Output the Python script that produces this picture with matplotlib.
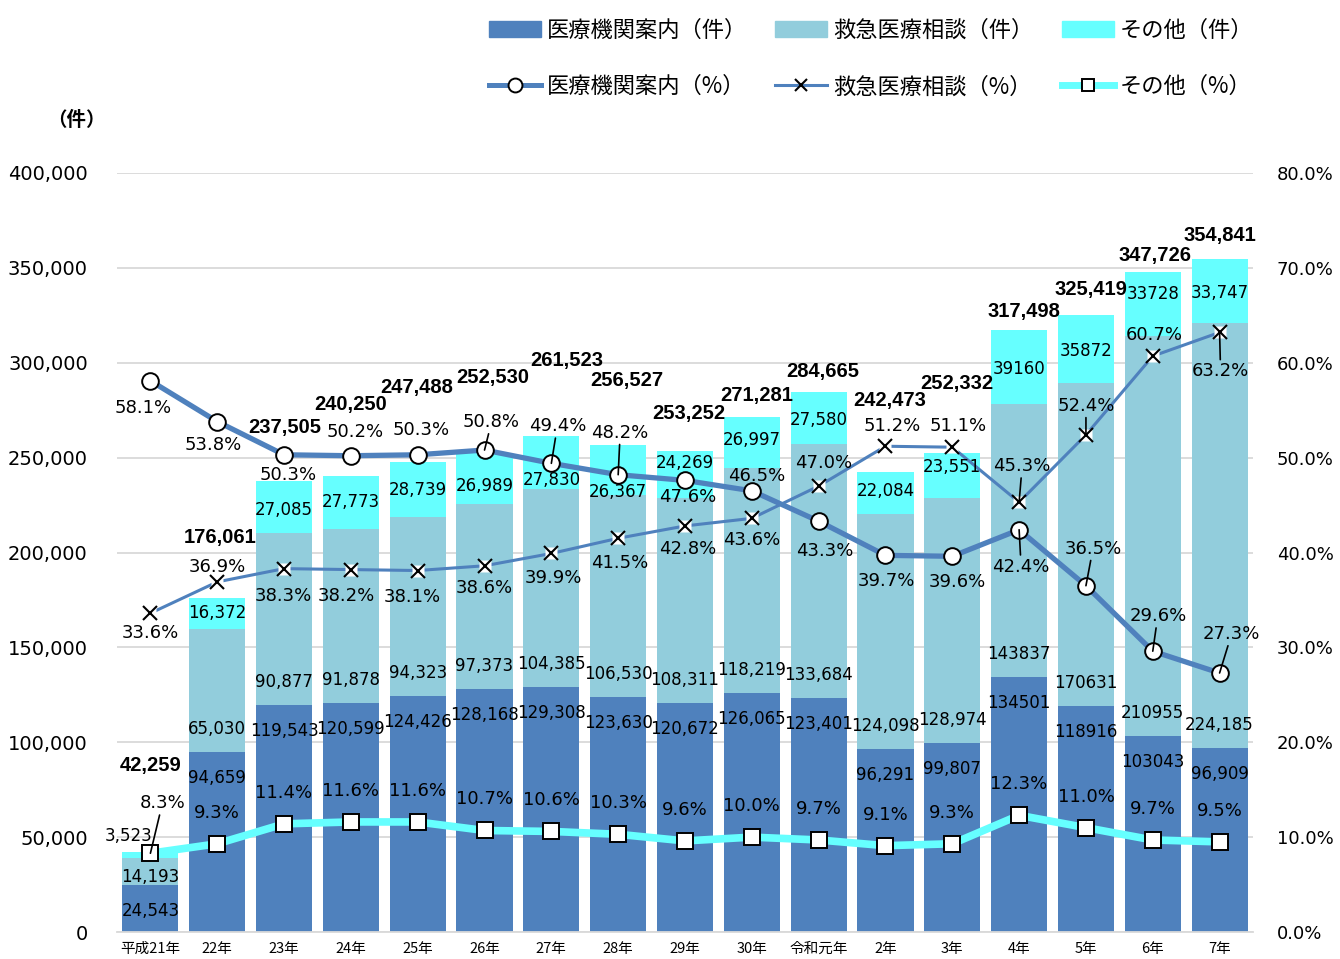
import numpy as np
import matplotlib
matplotlib.use("Agg")
import matplotlib.pyplot as plt
from matplotlib.lines import Line2D
from matplotlib.patches import Patch

plt.rcParams['font.family'] = ['Noto Sans CJK JP', 'DejaVu Sans']
NUM = ['DejaVu Sans', 'Noto Sans CJK JP']  # wide digits, close to the original

# Data
years = ['平成21年', '22年', '23年', '24年', '25年', '26年', '27年', '28年', '29年',
         '30年', '令和元年', '2年', '3年', '4年', '5年', '6年', '7年']
guide = [24543, 94659, 119543, 120599, 124426, 128168, 129308, 123630, 120672,
         126065, 123401, 96291, 99807, 134501, 118916, 103043, 96909]
consult = [14193, 65030, 90877, 91878, 94323, 97373, 104385, 106530, 108311,
           118219, 133684, 124098, 128974, 143837, 170631, 210955, 224185]
other = [3523, 16372, 27085, 27773, 28739, 26989, 27830, 26367, 24269,
         26997, 27580, 22084, 23551, 39160, 35872, 33728, 33747]
total = [42259, 176061, 237505, 240250, 247488, 252530, 261523, 256527, 253252,
         271281, 284665, 242473, 252332, 317498, 325419, 347726, 354841]
guide_pct = [58.1, 53.8, 50.3, 50.2, 50.3, 50.8, 49.4, 48.2, 47.6,
             46.5, 43.3, 39.7, 39.6, 42.4, 36.5, 29.6, 27.3]
consult_pct = [33.6, 36.9, 38.3, 38.2, 38.1, 38.6, 39.9, 41.5, 42.8,
               43.6, 47.0, 51.2, 51.1, 45.3, 52.4, 60.7, 63.2]
other_pct = [8.3, 9.3, 11.4, 11.6, 11.6, 10.7, 10.6, 10.3, 9.6,
             10.0, 9.7, 9.1, 9.3, 12.3, 11.0, 9.7, 9.5]
no_comma = (13, 14, 15)  # these years were labelled without thousands separator

DARK = '#4F81BD'
LIGHT = '#92CDDC'
CYAN = '#66FFFF'

# label offsets in pixels (dx, dy), dy up
total_off = [(0, 86), (3, 60), (1, 54), (0, 72), (-1, 75), (8, 75), (15, 75), (9, 65), (4, 38),
             (5, 22), (4, 20), (4, 71), (5, 70), (5, 18), (5, 25), (2, 17), (0, 23)]
other_off = [(-22, 19), (0, 0), (0, -3), (0, 0), (0, 0), (0, -8), (0, -18), (0, -22), (0, 11),
             (0, 3), (0, -2), (0, 2), (0, 9), (0, -2), (0, -2), (0, 10), (0, -2)]
gpct_off = [(-7, -27), (-4, -23), (4, -20), (4, 24), (3, 25), (7, 28), (6, 37), (2, 42), (3, -17),
            (5, 15), (6, -30), (1, -26), (5, -26), (2, -37), (7, 37), (5, 35), (12, 39)]
gpct_lead = [5, 6, 7, 13, 14, 15, 16]
cpct_off = [(0, -20), (0, 15), (-1, -27), (-5, -26), (-5, -26), (0, -22), (2, -25), (2, -25), (3, -23),
            (0, -22), (5, 23), (7, 20), (6, 21), (3, 36), (0, 29), (1, 21), (1, -39)]
cpct_lead = [13, 14, 16]
opct_off = [(12, 50)] + [(0, 31)] * 16
opct_lead = [0]

x = np.arange(len(years))
bottom2 = np.array(guide) + np.array(consult)

fig = plt.figure(figsize=(13.4, 9.59), dpi=100)
ax = fig.add_axes([117 / 1340, 27 / 959, 1136 / 1340, 759 / 959])
ax.bar(x, guide, width=0.84, color=DARK, zorder=2)
ax.bar(x, consult, width=0.84, bottom=guide, color=LIGHT, zorder=2)
ax.bar(x, other, width=0.84, bottom=bottom2, color=CYAN, zorder=2)

ax.set_xlim(-0.5, len(years) - 0.5)
ax.set_ylim(0, 400000)
ax.set_yticks(np.arange(0, 400001, 50000))
ax.set_yticklabels([f'{v:,}' for v in range(0, 400001, 50000)], fontsize=14, family=NUM)
ax.set_xticks(x)
ax.set_xticklabels(years, fontsize=10.5)
ax.tick_params(length=0)
ax.tick_params(axis='y', pad=21)
ax.tick_params(axis='x', pad=7)
ax.yaxis.grid(True, color='#D9D9D9', lw=1.3, zorder=0)
ax.set_axisbelow(True)
for s in ['top', 'left', 'right']:
    ax.spines[s].set_visible(False)
ax.spines['bottom'].set_color('#D9D9D9')
ax.spines['bottom'].set_linewidth(1.3)

ax2 = ax.twinx()
ax2.set_ylim(0, 80)
ax2.set_yticks(np.arange(0, 81, 10))
ax2.set_yticklabels([f'{v:.1f}%' for v in range(0, 81, 10)], fontsize=13, family=NUM)
ax2.tick_params(length=0, pad=17)
for s in ax2.spines.values():
    s.set_visible(False)

ax2.plot(x, guide_pct, color=DARK, lw=3.8, marker='o', ms=12, mfc='white', mec='black', mew=1.4, zorder=4)
ax2.plot(x, consult_pct, color=DARK, lw=2.2, zorder=4)
ax2.plot(x, consult_pct, ls='none', marker='s', ms=9, mfc='white', mec='none', zorder=5)
ax2.plot(x, consult_pct, ls='none', marker='x', ms=9.5, mec='black', mew=1.5, zorder=6)
ax2.plot(x, other_pct, color=CYAN, lw=5.5, marker='s', ms=11, mfc='white', mec='black', mew=1.4, zorder=4)


def put(txt, xy, off, trans, size=12, lead=False, family=NUM, **kw):
    ap = dict(arrowstyle='-', lw=1.2, color='black', shrinkA=0, shrinkB=0) if lead else None
    ax2.annotate(txt, xy=xy, xycoords=trans, xytext=off, textcoords='offset pixels',
                 ha='center', va='center', fontsize=size, zorder=10, arrowprops=ap,
                 family=family, **kw)


def fmt(v, i):
    return f'{v}' if i in no_comma else f'{v:,}'


for i in x:
    put(fmt(guide[i], i), (i, guide[i]), (0, -26), ax.transData)
    put(fmt(consult[i], i), (i, guide[i]), (0, 8 if i == 0 else 23), ax.transData)
    put(fmt(other[i], i), (i, bottom2[i] + other[i] / 2), other_off[i], ax.transData)
    put(f'{total[i]:,}', (i, total[i]), total_off[i], ax.transData,
        size=14.5, family='Liberation Sans', weight='bold')
    put(f'{guide_pct[i]:.1f}%', (i, guide_pct[i]), gpct_off[i], ax2.transData, size=13,
        lead=i in gpct_lead)
    put(f'{consult_pct[i]:.1f}%', (i, consult_pct[i]), cpct_off[i], ax2.transData, size=13,
        lead=i in cpct_lead)
    put(f'{other_pct[i]:.1f}%', (i, other_pct[i]), opct_off[i], ax2.transData, size=13,
        lead=i in opct_lead)

fig.text(76 / 1340, 1 - 120 / 959, '（件）', ha='center', va='center', fontsize=14, weight='bold')

handles = [Patch(color=DARK),
           Line2D([], [], color=DARK, lw=3.6, marker='o', ms=10, mfc='white', mec='black', mew=1.4),
           Patch(color=LIGHT),
           Line2D([], [], color=DARK, lw=2.2, marker='x', ms=9, mec='black', mew=1.5),
           Patch(color=CYAN),
           Line2D([], [], color=CYAN, lw=5, marker='s', ms=9, mfc='white', mec='black', mew=1.4)]
labels = ['医療機関案内（件）', '医療機関案内（%）', '救急医療相談（件）', '救急医療相談（%）',
          'その他（件）', 'その他（%）']
fig.legend(handles, labels, ncol=3, loc='upper left', bbox_to_anchor=(489 / 1340, 1 - 19 / 959),
           frameon=False, fontsize=16, handlelength=2.35, handleheight=0.75, handletextpad=0.27,
           columnspacing=1.25, labelspacing=1.5, borderpad=0, borderaxespad=0)

fig.savefig('out.png', dpi=100)
